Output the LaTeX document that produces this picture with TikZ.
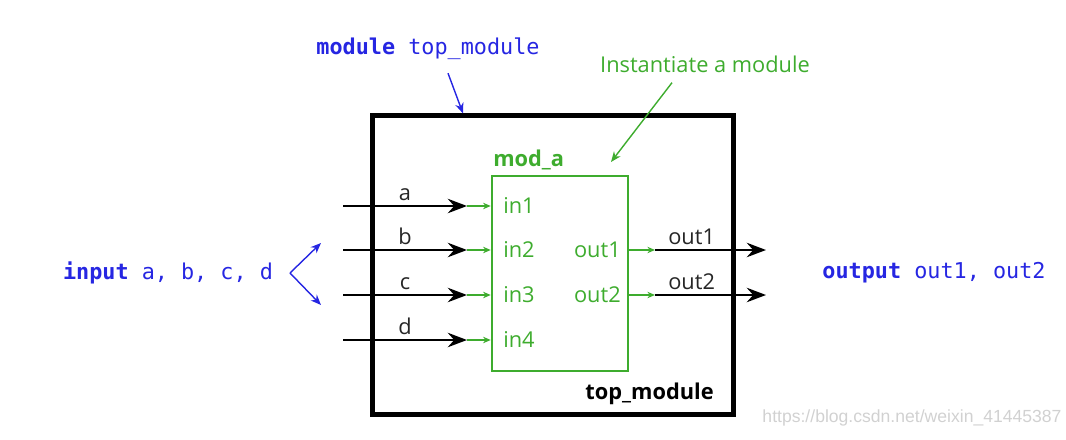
\documentclass[tikz,border=0pt]{standalone}
\usepackage{fontspec}
\setmainfont{Open Sans}
\setmonofont{DejaVu Sans Mono}
\newfontfamily\wmfont{Liberation Sans}
\usetikzlibrary{arrows.meta, positioning}
\definecolor{kwblue}{RGB}{38,38,226}
\definecolor{modgreen}{RGB}{62,172,46}
\tikzstyle{topbox}  = [rectangle, draw=black, line width=3.6pt, minimum width=9cm, minimum height=7.45cm]
\tikzstyle{modbox}  = [rectangle, draw=modgreen, line width=1.8pt, minimum width=3.4cm, minimum height=4.875cm]
\tikzstyle{code}    = [font=\ttfamily\fontsize{15.5}{18}\selectfont, text=kwblue, inner sep=0pt]
\tikzstyle{pinlbl}  = [font=\fontsize{15.5}{18}\selectfont, text=modgreen, inner sep=0pt]
\tikzstyle{wirelbl} = [font=\fontsize{15.5}{18}\selectfont, text=black!85, inner sep=3pt]
\tikzstyle{wire}    = [-{Stealth[length=4.8mm, width=3.6mm, inset=1.6mm]}, line width=1.8pt]
\tikzstyle{pinwire} = [-{Stealth[length=1.9mm, width=1.6mm]}, line width=1.1pt, draw=modgreen]
\tikzstyle{note}    = [-{Stealth[length=2.6mm, width=2.1mm]}, line width=1pt]

\begin{document}
\begin{tikzpicture}[x=0.025cm, y=-0.025cm]
    \useasboundingbox (0,0) rectangle (1066,440);

    \node (top) [topbox] at (553,265) {};
    \node (moda) [modbox] at (560,273.5) {};
    \node (modalbl) [pinlbl, font=\bfseries\fontsize{15.5}{18}\selectfont, anchor=south west] at (493,170) {mod\_a};
    \node (toplbl) [pinlbl, text=black, font=\bfseries\fontsize{15.5}{18}\selectfont, anchor=base east] at (714,399) {top\_module};

    % inputs
    \foreach \n/\y/\s in {1/206/a, 2/250/b, 3/295/c, 4/340/d} {
        \node (in\n) [pinlbl, anchor=west] at (503,\y) {in\n};
        \coordinate (src\n) at (343,\y);
        \coordinate (jn\n) at (467,\y);
        \draw[wire] (src\n) -- node[wirelbl, above] {\s} (jn\n);
        \draw[pinwire] (jn\n) -- (jn\n -| moda.west);
    }

    % outputs
    \foreach \n/\y in {1/250, 2/295} {
        \node (out\n) [pinlbl, anchor=east] at (621,\y) {out\n};
        \coordinate (jo\n) at (655,\y);
        \coordinate (dst\n) at (766,\y);
        \draw[pinwire] (moda.east |- jo\n) -- (jo\n);
        \draw[wire] (jo\n) -- node[wirelbl, above, pos=0.33] {out\n} (dst\n);
    }

    \node (modkw) [code] at (428,49) {\textbf{module} top\_module};
    \coordinate (modkwtip) at (463,116);
    \draw[note, kwblue] (modkw.south) ++(20,13) -- (top.north -| modkwtip);

    \node (instnote) [pinlbl] at (705,64) {Instantiate a module};
    \coordinate (insttip) at (611,162);
    \draw[note, modgreen] (instnote.south) ++(-33,10) -- (insttip);

    \node (inkw) [code] at (168,273) {\textbf{input} a, b, c, d};
    \coordinate (inv) at (290,273);
    \coordinate (intop) at (321,243);
    \coordinate (inbot) at (321,305);
    \draw[note, kwblue] (inv) -- (intop);
    \draw[note, kwblue] (inv) -- (inbot);

    \node (outkw) [code] at (934,273) {\textbf{output} out1, out2};

    \node (wm) [font=\wmfont\fontsize{12.5}{14}\selectfont, text=black!18, inner sep=0pt] at (912,418) {https://blog.csdn.net/weixin\_41445387};
\end{tikzpicture}
\end{document}
